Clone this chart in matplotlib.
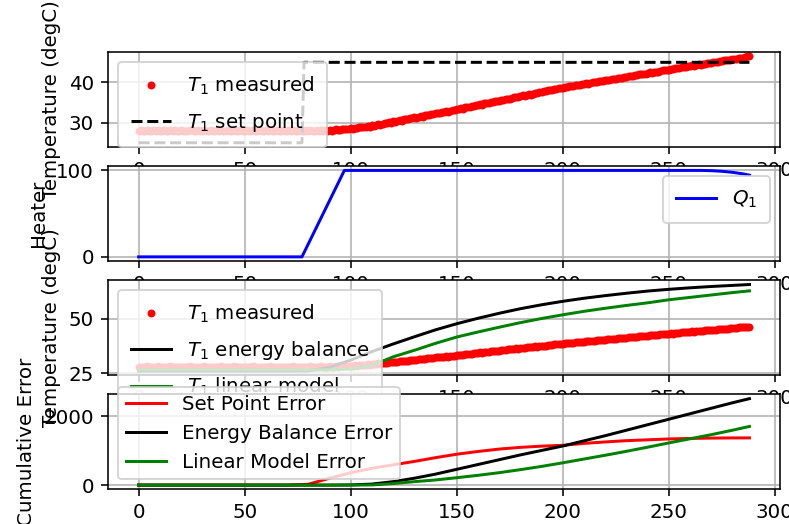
import numpy as np
import matplotlib
matplotlib.use('Agg')
import matplotlib.pyplot as plt

# measured temperature, one reading per second (degC)
T1_meas = [
    27.9, 28.1, 28.0, 27.8, 28.2, 28.0, 27.9, 28.1, 28.0, 28.2,
    27.9, 28.0, 28.1, 27.8, 28.0, 28.2, 27.9, 28.1, 28.0, 27.9,
    28.1, 28.0, 27.8, 28.0, 28.2, 28.1, 27.9, 28.0, 28.1, 27.9,
    28.0, 28.2, 27.9, 28.0, 28.1, 27.8, 28.0, 28.1, 28.0, 28.2,
    27.9, 28.0, 28.1, 28.0, 27.9, 28.2, 28.0, 27.8, 28.1, 28.0,
    28.0, 28.1, 27.9, 28.0, 28.2, 28.0, 27.9, 28.1, 28.0, 27.9,
    28.1, 28.0, 28.2, 27.9, 28.0, 28.1, 27.8, 28.0, 28.1, 28.0,
    27.9, 28.1, 28.0, 28.2, 28.0, 27.9, 28.1, 28.0, 27.9, 28.1,
    28.0, 28.2, 27.9, 28.0, 28.1, 28.0, 28.2, 27.9, 28.1, 28.0,
    28.2, 28.0, 28.1, 28.3, 28.1, 28.2, 28.4, 28.3, 28.5, 28.4,
    28.6, 28.5, 28.7, 28.6, 28.8, 28.9, 28.8, 29.0, 29.1, 29.0,
    29.3, 29.2, 29.4, 29.6, 29.5, 29.7, 29.8, 29.9, 30.1, 30.0,
    30.3, 30.2, 30.4, 30.6, 30.5, 30.8, 30.9, 30.8, 31.1, 31.2,
    31.3, 31.2, 31.5, 31.6, 31.5, 31.8, 31.9, 32.0, 32.2, 32.1,
    32.3, 32.4, 32.3, 32.6, 32.7, 32.8, 32.7, 33.0, 33.1, 33.2,
    33.3, 33.4, 33.6, 33.5, 33.8, 33.9, 33.8, 34.1, 34.2, 34.3,
    34.4, 34.6, 34.5, 34.8, 34.9, 34.9, 35.1, 35.2, 35.4, 35.3,
    35.5, 35.7, 35.6, 35.9, 36.0, 36.0, 36.2, 36.3, 36.5, 36.4,
    36.6, 36.8, 36.7, 36.9, 37.1, 37.0, 37.2, 37.4, 37.3, 37.5,
    37.6, 37.8, 37.8, 38.0, 38.1, 38.1, 38.3, 38.4, 38.6, 38.5,
    38.7, 38.8, 38.8, 39.0, 39.1, 39.1, 39.3, 39.4, 39.4, 39.5,
    39.6, 39.8, 39.7, 39.9, 40.0, 40.0, 40.2, 40.3, 40.3, 40.4,
    40.5, 40.7, 40.6, 40.8, 40.9, 40.9, 41.1, 41.2, 41.2, 41.3,
    41.4, 41.6, 41.5, 41.7, 41.8, 41.8, 42.0, 42.1, 42.1, 42.2,
    42.3, 42.5, 42.4, 42.6, 42.7, 42.7, 42.9, 43.0, 43.0, 43.1,
    43.2, 43.4, 43.3, 43.5, 43.6, 43.6, 43.8, 43.9, 43.9, 44.0,
    44.1, 44.3, 44.2, 44.4, 44.5, 44.4, 44.6, 44.7, 44.8, 44.8,
    44.9, 45.1, 45.0, 45.2, 45.3, 45.3, 45.5, 45.6, 45.5, 45.7,
    45.8, 45.9, 45.9, 46.1, 46.2, 46.2, 46.3, 46.5, 46.5,
]
t = np.arange(len(T1_meas))

# set point (step change)
sp_t = [0, 77, 78, 288]
sp_T = [25, 25, 45, 45]

# heater output (%)
q_t = [0, 77, 97, 265, 270, 275, 280, 285, 288]
Q1 = [0, 0, 100, 100, 99.7, 99.0, 97.8, 96.0, 94.5]

# model predictions and cumulative errors, every 10 s
tm = [0, 10, 20, 30, 40, 50, 60, 70, 80, 90, 100, 110, 120, 130, 140,
      150, 160, 170, 180, 190, 200, 210, 220, 230, 240, 250, 260, 270, 280, 288]
T1_eb = [26.1, 26.1, 26.1, 26.1, 26.1, 26.1, 26.1, 26.1, 26.15, 27.8,
         31.1, 35.0, 38.5, 41.8, 45.0, 47.8, 50.3, 52.6, 54.7, 56.5,
         58.1, 59.5, 60.7, 61.8, 62.8, 63.6, 64.3, 64.9, 65.4, 65.8]
T1_lin = [26.6, 26.6, 26.6, 26.6, 26.6, 26.6, 26.6, 26.6, 26.6, 26.6,
          27.0, 28.6, 32.6, 35.6, 38.8, 41.7, 44.0, 46.2, 48.3, 50.2,
          51.9, 53.5, 54.9, 56.2, 57.4, 58.8, 59.9, 61.0, 62.1, 62.9]
err_sp = [0, 0, 0, 0, 0, 0, 0, 0, 25, 200,
          360, 490, 590, 690, 800, 900, 980, 1050, 1100, 1135,
          1160, 1215, 1258, 1295, 1320, 1345, 1360, 1370, 1375, 1376]
err_eb = [0, 0, 0, 0, 0, 0, 0, 0, 0, 0,
          5, 30, 100, 200, 320, 460, 600, 740, 880, 1010,
          1140, 1290, 1440, 1600, 1760, 1920, 2080, 2240, 2400, 2520]
err_lin = [0, 0, 0, 0, 0, 0, 0, 0, 0, 0,
           0, 5, 45, 100, 150, 215, 285, 362, 450, 545,
           650, 760, 870, 985, 1105, 1230, 1350, 1470, 1600, 1710]

plt.figure(figsize=(789/143, 524/143), dpi=143)
plt.subplots_adjust(left=0.137, right=0.9886, top=0.9008, bottom=0.066, hspace=0.2)

# mathtext labels give taller legend rows in the original
tall = dict(borderpad=0.65, labelspacing=0.7)

plt.subplot(4, 1, 1)
plt.plot(t, T1_meas, 'r.', label='$T_1$ measured')
plt.plot(sp_t, sp_T, 'k--', label='$T_1$ set point')
plt.ylabel('Temperature (degC)')
plt.legend(loc='upper left', **tall)
plt.grid()

plt.subplot(4, 1, 2)
plt.plot(q_t, Q1, 'b-', label='$Q_1$')
plt.ylabel('Heater')
plt.legend(loc='upper right', **tall)
plt.grid()

plt.subplot(4, 1, 3)
plt.plot(t, T1_meas, 'r.', label='$T_1$ measured')
plt.plot(tm, T1_eb, 'k-', label='$T_1$ energy balance')
plt.plot(tm, T1_lin, 'g-', label='$T_1$ linear model')
plt.ylabel('Temperature (degC)')
plt.legend(loc='upper left', **tall)
plt.grid()

plt.subplot(4, 1, 4)
plt.plot(tm, err_sp, 'r-', label='Set Point Error')
plt.plot(tm, err_eb, 'k-', label='Energy Balance Error')
plt.plot(tm, err_lin, 'g-', label='Linear Model Error')
plt.ylabel('Cumulative Error')
plt.legend(loc='lower left')
plt.grid()

plt.savefig('out.png')
